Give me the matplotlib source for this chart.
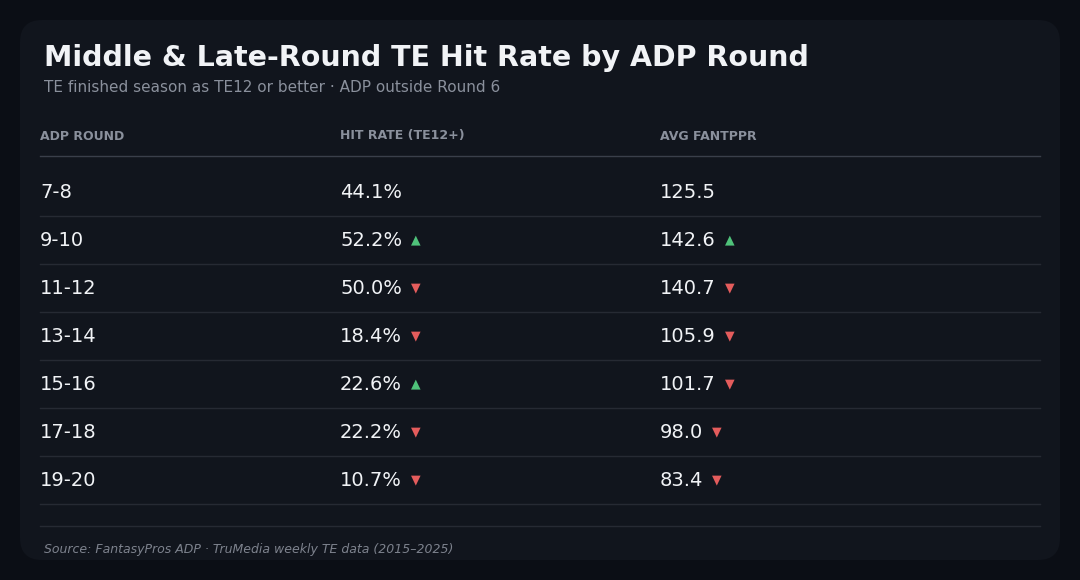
import matplotlib
matplotlib.use("Agg")
import matplotlib.pyplot as plt
from matplotlib.patches import FancyBboxPatch

plt.rcParams['font.family'] = ['DejaVu Sans']

rounds = ["7-8", "9-10", "11-12", "13-14", "15-16", "17-18", "19-20"]
hit_rate = [44.1, 52.2, 50.0, 18.4, 22.6, 22.2, 10.7]
avg_pts = [125.5, 142.6, 140.7, 105.9, 101.7, 98.0, 83.4]
headers = ["ADP ROUND", "HIT RATE (TE12+)", "AVG FANTPPR"]

W, H = 1080, 580
fig = plt.figure(figsize=(W/100, H/100), dpi=100, facecolor="#0b0e15")
ax = fig.add_axes([0, 0, 1, 1])
ax.set_xlim(0, W); ax.set_ylim(H, 0); ax.axis("off")
ax.set_facecolor("#0b0e15")

ax.add_patch(FancyBboxPatch((20, 20), 1040, 540, boxstyle="round,pad=0,rounding_size=22",
                            fc="#11151d", ec="none"))
ax.text(44, 58, "Middle & Late-Round TE Hit Rate by ADP Round", color="#f1f3f6",
        fontsize=20.5, fontweight="bold", va="center")
ax.text(44, 88, "TE finished season as TE12 or better · ADP outside Round 6", color="#8a909c",
        fontsize=11, va="center")
colx = [40, 340, 660]
for x, h in zip(colx, headers):
    ax.text(x, 136, h, color="#8a909c", fontsize=9, fontweight="bold", va="center")
ax.plot([40, 1040], [156, 156], color="#3a3f4a", lw=1)

fig.canvas.draw()
r = fig.canvas.get_renderer()
up, dn = "#4fc27a", "#e45c5c"

def arrow_after(t, val, prev):
    if prev is None:
        return
    bb = t.get_window_extent(r)
    x = bb.x1 + 9
    y = t.get_position()[1]
    color = up if val > prev else dn
    sym = "▲" if val > prev else "▼"
    ax.text(x, y, sym, color=color, fontsize=9, va="center", ha="left")

for i, rd in enumerate(rounds):
    y = 192 + 48 * i
    ax.text(40, y, rd, color="#f1f3f6", fontsize=14, va="center")
    t1 = ax.text(340, y, f"{hit_rate[i]:.1f}%", color="#f1f3f6", fontsize=14, va="center")
    t2 = ax.text(660, y, f"{avg_pts[i]:.1f}", color="#f1f3f6", fontsize=14, va="center")
    prev_h = hit_rate[i-1] if i > 0 else None
    prev_a = avg_pts[i-1] if i > 0 else None
    arrow_after(t1, hit_rate[i], prev_h)
    arrow_after(t2, avg_pts[i], prev_a)
    ax.plot([40, 1040], [y + 24, y + 24], color="#262a33", lw=1)

ax.plot([40, 1040], [526, 526], color="#262a33", lw=1)
ax.text(44, 549, "Source: FantasyPros ADP · TruMedia weekly TE data (2015–2025)", color="#7d828d",
        fontsize=9, style="italic", va="center")

fig.savefig("out.png", dpi=100, facecolor=fig.get_facecolor())
